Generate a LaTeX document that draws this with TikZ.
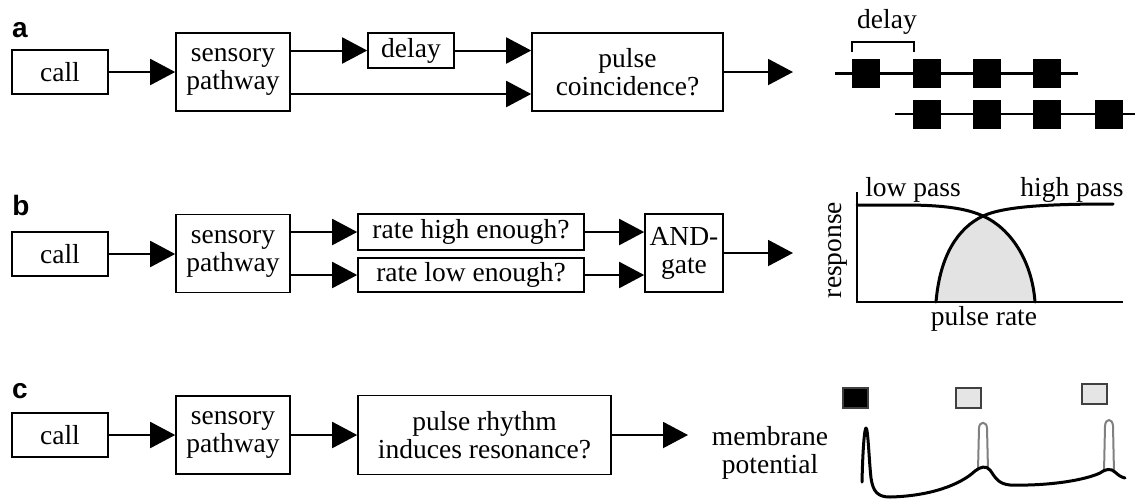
\documentclass[tikz,border=0pt]{standalone}
\usepackage{fontspec}
\setmainfont{Liberation Serif}
\newfontfamily\panelfont{Liberation Sans}
\usetikzlibrary{positioning}
\usetikzlibrary{arrows.meta}
\usetikzlibrary{calc}

\tikzset{
  box/.style={draw, line width=0.8pt, inner sep=0pt, align=center,
    font=\fontsize{13.75}{14}\selectfont},
  callbox/.style={box, minimum width=48pt, minimum height=22pt},
  sensbox/.style={box, minimum width=57pt, minimum height=39pt},
  flow/.style={line width=1pt, -{Triangle[length=12.5pt,width=13pt]}},
  panel/.style={font=\panelfont\bfseries\fontsize{14}{14}\selectfont, inner sep=0pt},
  plain/.style={font=\fontsize{13.75}{14}\selectfont, inner sep=0pt, align=center},
  beat/.style={fill=black, minimum width=14pt, minimum height=14.5pt, inner sep=0pt},
  stim/.style={draw=black!75, line width=0.8pt, minimum width=12.5pt, minimum height=10pt, inner sep=0pt},
  trace/.style={line width=1.5pt, line join=round, line cap=round},
}

\begin{document}
\begin{tikzpicture}[x=0.5pt, y=-0.5pt]
        \useasboundingbox (0,0) rectangle (1135,500);

        % a
        \node[panel] (la) at (20,30) {a};
        \node[callbox] (acall) at (60,72) {call};
        \node[sensbox] (asens) at (233,72) {sensory\\pathway};
        \node[box, minimum width=43pt, minimum height=17.5pt] (adelay) at (411,50.5) {delay};
        \node[box, minimum width=95.5pt, minimum height=39pt] (acoin) at (627.5,72) {pulse\\coincidence?};
        \coordinate (aout) at (793,72);
        \draw[flow] (acall) -- (asens);
        \draw[flow] (asens.east |- adelay) -- (adelay);
        \draw[flow] (adelay) -- (acoin.west |- adelay);
        \draw[flow] (asens.east |- 0,94) -- (acoin.west |- 0,94);
        \draw[flow] (acoin) -- (aout);

        \node[plain] (dlab) at (887,22) {delay};
        \draw[line width=1pt] (852,52) -- (852,42) -- (914,42) -- (914,52);
        \draw[line width=1.4pt] (835,73.5) -- (1078,73.5);
        \draw[line width=1.4pt] (895,114) -- (1135,114);
        \foreach \x in {866,927,987,1047}
            \node[beat] (top\x) at (\x,73.5) {};
        \foreach \x in {927,987,1047,1109}
            \node[beat] (bot\x) at (\x,114) {};

        % b
        \node[panel] (lb) at (21,205) {b};
        \node[callbox] (bcall) at (60,254) {call};
        \node[sensbox] (bsens) at (233,253.5) {sensory\\pathway};
        \node[box, minimum width=113pt, minimum height=18pt] (bhigh) at (471,232) {rate high enough?};
        \node[box, minimum width=113pt, minimum height=17pt] (blow) at (471,275) {rate low enough?};
        \node[box, minimum width=39pt, minimum height=39pt] (band) at (684,253) {AND-\\gate};
        \coordinate (bout) at (793,253);
        \draw[flow] (bcall) -- (bsens.west |- bcall);
        \draw[flow] (bsens.east |- bhigh) -- (bhigh);
        \draw[flow] (bsens.east |- blow) -- (blow);
        \draw[flow] (bhigh) -- (band.west |- bhigh);
        \draw[flow] (blow) -- (band.west |- blow);
        \draw[flow] (band) -- (bout);

        \fill[gray!22] (936,302) .. controls (940,255) and (958,228) .. (983,216)
            .. controls (1010,228) and (1032,260) .. (1035,302) -- cycle;
        \draw[line width=1pt] (857,192) -- (857,302) -- (1123,302);
        \draw[trace] (857,205) -- (905,205) .. controls (945,205) and (968,209) .. (983,216)
            .. controls (1010,228) and (1032,260) .. (1035,302);
        \draw[trace] (936,302) .. controls (940,255) and (958,228) .. (983,216)
            .. controls (1005,206) and (1050,204) .. (1113,204);
        \node[plain] (lowp) at (913,190) {low pass};
        \node[plain] (highp) at (1072,190) {high pass};
        \node[plain, rotate=90] (resp) at (838,250) {response};
        \node[plain] (prate) at (984,319) {pulse rate};

        % c
        \node[panel] (lc) at (20,391) {c};
        \node[callbox] (ccall) at (60,435) {call};
        \node[sensbox] (csens) at (233,435) {sensory\\pathway};
        \node[box, minimum width=126.5pt, minimum height=39.5pt] (creso) at (484.5,435) {pulse rhythm\\induces resonance?};
        \coordinate (cout) at (688,435);
        \draw[flow] (ccall) -- (csens);
        \draw[flow] (csens) -- (creso);
        \draw[flow] (creso) -- (cout);

        \node[plain] (memb) at (770,453) {membrane\\potential};
        \node[stim, fill=black] (s1) at (855.5,398) {};
        \node[stim, fill=gray!20] (s2) at (968.5,398) {};
        \node[stim, fill=gray!20] (s3) at (1094.5,394) {};
        \draw[gray, line width=1pt] (978,470) -- (979,428) .. controls (979.5,421) and (986.5,421) .. (987,428) -- (988,470);
        \draw[gray, line width=1pt] (1104,472) -- (1105,426) .. controls (1105.5,418) and (1112.5,418) .. (1113,426) -- (1114,473);
        \draw[trace] (862,482) .. controls (863,440) and (865,428) .. (866,428)
            .. controls (868,428) and (869,460) .. (871,478)
            .. controls (873,492) and (878,497) .. (890,497)
            .. controls (930,496) and (960,485) .. (975,471)
            .. controls (980,467) and (986,465) .. (990,470)
            .. controls (995,477) and (998,484) .. (1010,485)
            .. controls (1050,486) and (1085,480) .. (1100,473)
            .. controls (1105,469) and (1111,468) .. (1115,472)
            .. controls (1118,475) and (1121,477) .. (1125,478);
\end{tikzpicture}
\end{document}
